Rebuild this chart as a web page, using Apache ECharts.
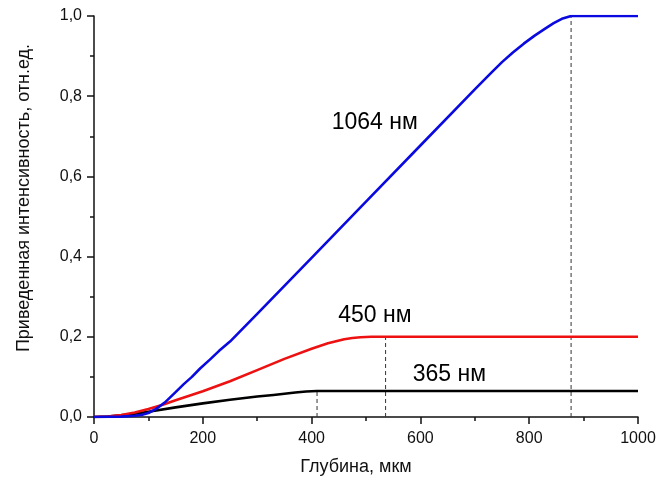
<!DOCTYPE html>
<html>
<head>
<meta charset="utf-8">
<script src="https://cdn.jsdelivr.net/npm/echarts@6/dist/echarts.min.js"></script>
<style>
  html, body { margin: 0; padding: 0; background: #fff; }
  #chart { width: 670px; height: 485px; }
</style>
</head>
<body>
<div id="chart"></div>
<script>
// depth, um / normalized intensity
var blueX = [0, 50, 75, 90, 100, 115, 130, 150, 165, 180, 195, 213, 230, 250, 300, 400, 500, 600, 700, 730, 750, 770, 790, 810, 830, 845, 860, 877, 1000];
var blueY = [0, 0.001, 0.003, 0.006, 0.01, 0.021, 0.036, 0.062, 0.082, 0.100, 0.121, 0.143, 0.165, 0.188, 0.257, 0.397, 0.537, 0.677, 0.817, 0.858, 0.885, 0.909, 0.931, 0.951, 0.969, 0.982, 0.993, 1.0, 1.0];

var redX = [0, 25, 50, 75, 100, 125, 150, 200, 250, 300, 350, 400, 415, 430, 445, 460, 475, 490, 510, 536, 1000];
var redY = [0, 0.001, 0.005, 0.011, 0.02, 0.03, 0.042, 0.064, 0.089, 0.117, 0.145, 0.170, 0.177, 0.184, 0.189, 0.194, 0.197, 0.199, 0.2, 0.2, 0.2];

var blackX = [0, 25, 50, 75, 100, 150, 200, 250, 300, 330, 350, 370, 390, 410, 1000];
var blackY = [0, 0.001, 0.004, 0.008, 0.013, 0.024, 0.034, 0.043, 0.051, 0.055, 0.058, 0.061, 0.0635, 0.065, 0.065];

// where each curve reaches its plateau (dashed drop lines)
var dropX = [410, 536, 877];
var dropY = [0.065, 0.2, 1.0];

// curve labels: [depth, intensity, text]
var labelPos = [[437, 0.734], [449, 0.253], [586, 0.106]];
var labelText = ['1064 нм', '450 нм', '365 нм'];

var xTicks = { min: 0, max: 1000, step: 200 };
var yTicks = { min: 0, max: 1, step: 0.2 };

function pairs(xs, ys) {
    var d = [];
    for (var i = 0; i < xs.length; i++) d.push([xs[i], ys[i]]);
    return d;
}

var font = "'Liberation Sans', Arial, sans-serif";

var series = [];
for (var i = 0; i < dropX.length; i++) {
    series.push({
        type: 'line',
        data: [[dropX[i], 0], [dropX[i], dropY[i]]],
        symbol: 'none',
        silent: true,
        z: 1,
        lineStyle: { color: '#333', width: 1, type: [4, 3] }
    });
}
function curve(xs, ys, color) {
    return {
        type: 'line',
        data: pairs(xs, ys),
        symbol: 'none',
        smooth: false,
        z: 3,
        lineStyle: { color: color, width: 2.6, join: 'round' }
    };
}
series.push(curve(blackX, blackY, '#000000'));
series.push(curve(redX, redY, '#ee1111'));
series.push(curve(blueX, blueY, '#0a0ae0'));

var labelData = [];
for (var j = 0; j < labelPos.length; j++) {
    labelData.push({ value: labelPos[j], name: labelText[j] });
}
series.push({
    type: 'scatter',
    data: labelData,
    symbolSize: 0,
    silent: true,
    z: 4,
    itemStyle: { opacity: 1 },
    label: {
        show: true,
        position: 'right',
        distance: 0,
        formatter: function (p) { return p.name; },
        color: '#000',
        opacity: 1,
        fontSize: 23,
        fontFamily: font
    }
});

var chart = echarts.init(document.getElementById('chart'), null, { renderer: 'canvas' });
chart.setOption({
    animation: false,
    backgroundColor: '#fff',
    grid: { left: 94, right: 32, top: 16, bottom: 68, containLabel: false },
    xAxis: {
        type: 'value',
        min: xTicks.min,
        max: xTicks.max,
        interval: xTicks.step,
        name: 'Глубина, мкм',
        nameLocation: 'middle',
        nameGap: 41,
        nameTextStyle: { fontSize: 18, color: '#111', fontFamily: font, padding: [0, 20, 0, 0] },
        axisLine: { onZero: false, lineStyle: { color: '#111', width: 1.5 } },
        axisTick: { inside: false, length: 7, lineStyle: { color: '#111', width: 1.5 } },
        minorTick: { show: true, splitNumber: 2, length: 4, lineStyle: { color: '#111', width: 1.5 } },
        axisLabel: {
            fontSize: 16, color: '#111', fontFamily: font, margin: 14,
            formatter: function (v) { return String(v); }
        },
        splitLine: { show: false }
    },
    yAxis: {
        type: 'value',
        min: yTicks.min,
        max: yTicks.max,
        interval: yTicks.step,
        axisLine: { show: true, onZero: false, lineStyle: { color: '#111', width: 1.5 } },
        axisTick: { show: true, inside: false, length: 7, lineStyle: { color: '#111', width: 1.5 } },
        minorTick: { show: true, splitNumber: 2, length: 4, lineStyle: { color: '#111', width: 1.5 } },
        axisLabel: {
            fontSize: 16, color: '#111', fontFamily: font, margin: 12,
            formatter: function (v) { return v.toFixed(1).replace('.', ','); }
        },
        splitLine: { show: false }
    },
    graphic: [{
        type: 'text',
        x: 24,
        y: 198,
        rotation: Math.PI / 2,
        style: {
            text: 'Приведенная интенсивность, отн.ед.',
            fontSize: 18,
            fontFamily: font,
            fill: '#111',
            align: 'center',
            verticalAlign: 'middle'
        }
    }],
    series: series
});
</script>
</body>
</html>
